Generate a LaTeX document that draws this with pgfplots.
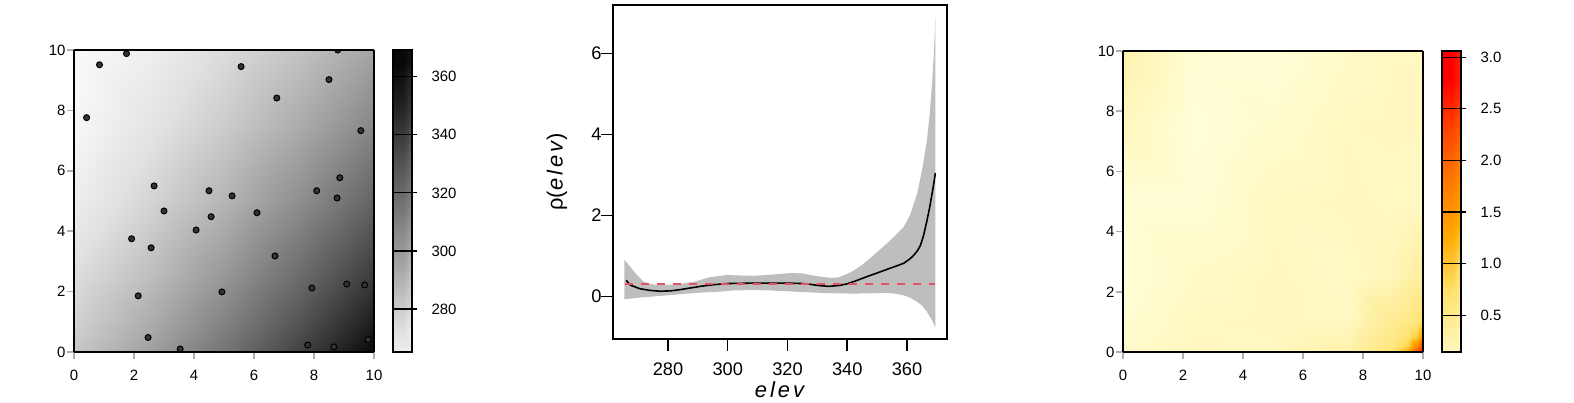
\documentclass[border=0pt]{standalone}
\usepackage{fontspec}
\setmainfont{Liberation Sans}
\usepackage{pgfplots}
\usepackage{pgfplotstable}
\pgfplotsset{compat=1.18}

\definecolor{bandgray}{RGB}{190,190,190}
\definecolor{refred}{RGB}{223,83,107}
\definecolor{tickgray}{RGB}{175,175,175}

\pgfplotsset{
  colormap={elevgray}{gray(0pt)=(0.98) gray(15pt)=(0.88) gray(35pt)=(0.69)
    gray(55pt)=(0.5) gray(75pt)=(0.32) gray(95pt)=(0.13) gray(104pt)=(0.03)},
  colormap={rhoheat}{rgb255(0pt)=(255,255,218) rgb255(35.5pt)=(255,240,165)
    rgb255(85.5pt)=(255,224,105) rgb255(135.5pt)=(255,170,0)
    rgb255(185.5pt)=(255,125,0) rgb255(235.5pt)=(255,75,0) rgb255(291.5pt)=(255,0,0)},
  mapax/.style={
    anchor=south west, scale only axis, view={0}{90},
    xmin=0, xmax=10, ymin=0, ymax=10,
    xtick={0,2,...,10}, ytick={0,2,...,10}, ztick=\empty,
    tick pos=left, tick align=outside, major tick length=7bp,
    tick style={tickgray, line width=1.5bp},
    axis line style={line width=1.8bp},
    tick label style={font=\fontsize{15}{18}\selectfont},
    xticklabel style={yshift=-8bp},
    yticklabel style={xshift=2bp},
    /pgf/number format/assume math mode=true,
    clip marker paths=true,
  },
  barax/.style={
    anchor=south west, scale only axis, width=19bp,
    xmin=0, xmax=1, xtick=\empty,
    ytick pos=right, yticklabel pos=right,
    tick align=outside, major tick length=5bp,
    tick style={black, line width=1.2bp},
    ymajorgrids, major grid style={black, line width=1.2bp},
    axis on top, axis line style={line width=1.8bp},
    yticklabel style={font=\fontsize{15}{18}\selectfont, xshift=11bp},
    /pgf/number format/assume math mode=true,
  },
}

% elevation surface, x varies fastest (7 columns)
\pgfplotstableread{
x y z
0 0 290.6
2.5 0 306.5
5 0 325.1
7.5 0 346.4
9 0 360.5
9.5 0 365.4
10 0 369.2
0 0.5 288.5
2.5 0.5 303.9
5 0.5 321.9
7.5 0.5 342.7
9 0.5 356.4
9.5 0.5 361.2
10 0.5 366.1
0 1 286.5
2.5 1 301.3
5 1 318.8
7.5 1 339.0
9 1 352.5
9.5 1 357.2
10 1 361.9
0 2.5 281.2
2.5 2.5 294.4
5 2.5 310.2
7.5 2.5 328.8
9 2.5 341.3
9.5 2.5 345.6
10 2.5 350.1
0 5 272.3
2.5 5 285.0
5 5 298.1
7.5 5 313.9
9 5 324.8
9.5 5 328.6
10 5 332.5
0 7.5 266.7
2.5 7.5 277.5
5 7.5 288.7
7.5 7.5 301.8
9 7.5 311.0
9.5 7.5 314.3
10 7.5 317.7
0 10 265.2
2.5 10 271.9
5 10 282.0
7.5 10 292.4
9 10 300.0
9.5 10 302.7
10 10 305.5
}\elevgrid

% rho(elev) on a grid refined near the (10,0) corner (8 columns)
\pgfplotstableread{
x y z
0 0 0.26
2.5 0 0.33
5 0 0.31
7.5 0 0.48
9 0 0.91
9.5 0 1.50
9.8 0 2.54
10 0 3.05
0 0.2 0.25
2.5 0.2 0.33
5 0.2 0.32
7.5 0.2 0.45
9 0.2 0.81
9.5 0.2 1.16
9.8 0.2 1.88
10 0.2 2.68
0 0.5 0.23
2.5 0.5 0.32
5 0.5 0.32
7.5 0.5 0.39
9 0.5 0.75
9.5 0.5 0.95
9.8 0.5 1.20
10 0.5 1.70
0 1 0.20
2.5 1 0.32
5 1 0.33
7.5 1 0.31
9 1 0.65
9.5 1 0.77
9.8 1 0.88
10 1 1.00
0 2.5 0.16
2.5 2.5 0.28
5 2.5 0.33
7.5 2.5 0.29
9 2.5 0.36
9.5 2.5 0.47
9.8 2.5 0.54
10 2.5 0.58
0 5 0.18
2.5 5 0.18
5 5 0.31
7.5 5 0.33
9 5 0.31
9.5 5 0.29
9.8 5 0.28
10 5 0.27
0 7.5 0.33
2.5 7.5 0.14
5 7.5 0.23
7.5 7.5 0.32
9 7.5 0.33
9.5 7.5 0.33
9.8 7.5 0.33
10 7.5 0.33
0 10 0.45
2.5 10 0.18
5 10 0.16
7.5 10 0.27
9 10 0.32
9.5 10 0.32
9.8 10 0.32
10 10 0.33
}\rhogrid

% colour-scale samples for the two legend bars
\pgfplotstableread{
x y z
0 265.2 265.2
1 265.2 265.2
0 280 280
1 280 280
0 300 300
1 300 300
0 320 320
1 320 320
0 340 340
1 340 340
0 360 360
1 360 360
0 369.2 369.2
1 369.2 369.2
}\elevbar
\pgfplotstableread{
x y z
0 0.145 0.145
1 0.145 0.145
0 0.5 0.5
1 0.5 0.5
0 1.0 1.0
1 1.0 1.0
0 1.5 1.5
1 1.5 1.5
0 2.0 2.0
1 2.0 2.0
0 2.5 2.5
1 2.5 2.5
0 3.06 3.06
1 3.06 3.06
}\rhobar

\begin{document}
\begin{tikzpicture}
\path[use as bounding box, fill=white] (0,0) rectangle (1574bp,403bp);

% left: elevation map with locations
\begin{axis}[mapax, at={(74bp,51bp)}, width=300bp, height=302bp,
    colormap name=elevgray, point meta min=265.2, point meta max=369.2]
\addplot3[surf, shader=interp, mesh/cols=7] table[x=x, y=y, z=z] {\elevgrid};
\addplot3[only marks, mark=*, mark size=3bp,
    mark options={fill=black!80, draw=black, line width=1bp}] coordinates {
(0.42,7.76,400) (0.85,9.51,400) (1.75,9.88,400) (5.57,9.45,400)
(8.79,10.0,400) (8.50,9.02,400) (6.76,8.41,400) (9.56,7.33,400)
(8.86,5.77,400) (8.09,5.34,400) (8.77,5.10,400) (2.67,5.50,400)
(4.50,5.34,400) (5.27,5.17,400) (3.00,4.67,400) (4.57,4.48,400)
(6.10,4.61,400) (4.07,4.04,400) (1.92,3.75,400) (2.57,3.45,400)
(6.70,3.18,400) (2.14,1.86,400) (4.93,1.99,400) (7.93,2.12,400)
(9.09,2.25,400) (9.69,2.22,400) (2.47,0.48,400) (3.54,0.10,400)
(7.79,0.23,400) (8.66,0.17,400) (9.80,0.41,400)
};
\end{axis}
\begin{axis}[barax, at={(393bp,51bp)}, height=302bp,
    ymin=265.2, ymax=369.2, ytick={280,300,...,360},
    colormap name=elevgray, point meta min=265.2, point meta max=369.2]
\addplot[matrix plot*, shader=interp, mesh/cols=2, point meta=explicit]
  table[x=x, y=y, meta=z] {\elevbar};
\end{axis}

% middle: rho(elev) with band
\begin{axis}[at={(613bp,64bp)}, anchor=south west, scale only axis,
    width=334bp, height=334bp,
    xmin=261.6, xmax=373.4, ymin=-1.05, ymax=7.2,
    xtick={280,300,...,360}, ytick={0,2,4,6},
    tick pos=left, tick align=outside, major tick length=12bp,
    tick style={black, line width=1.5bp},
    axis line style={line width=1.8bp},
    tick label style={font=\fontsize{18.3}{22}\selectfont},
    xticklabel style={yshift=-8bp},
    yticklabel style={xshift=4bp},
    /pgf/number format/assume math mode=true,
    xlabel={\textit{e\kern3bp l\kern3bp e\kern3bp v}},
    ylabel={ρ(\textit{e\kern3bp l\kern3bp e\kern3bp v})},
    label style={font=\fontsize{22}{26}\selectfont},
    xlabel style={at={(axis description cs:0.5,-0.153)}, anchor=center},
    ylabel style={at={(axis description cs:-0.168,0.5)}, anchor=center},
]
\addplot[fill=bandgray, draw=none] coordinates {
(265.4,0.91) (267.4,0.73) (269.6,0.53) (271.8,0.37) (274,0.31) (277.4,0.28)
(283,0.30) (288.6,0.36) (294.1,0.48) (299.7,0.53) (304,0.52) (308.7,0.51)
(315,0.54) (321,0.58) (325,0.57) (327.7,0.53) (331,0.49) (334.4,0.46)
(337,0.47) (339.4,0.54) (342,0.63) (345.5,0.81) (349,1.03) (353.3,1.31)
(356,1.50) (358.9,1.72) (361,2.0) (363.4,2.54) (365,3.1) (366.7,3.86)
(367.6,4.5) (368.4,5.26) (369,6.0) (369.5,6.90)
(369.5,-0.77) (368.5,-0.60) (366.7,-0.38) (365,-0.22) (363.4,-0.13)
(361,-0.03) (358.9,0.03) (356,0.07) (353.3,0.09) (348,0.08) (342.2,0.07)
(336,0.08) (331,0.09) (325,0.11) (319.8,0.13) (314,0.15) (308.7,0.16)
(302,0.15) (297.5,0.12) (292,0.10) (286,0.07) (280,0.03) (275,0.0)
(270,-0.03) (265.4,-0.07)
} -- cycle;
\addplot[black, line width=1.6bp] coordinates {
(266.0,0.40) (267.4,0.28) (270.7,0.19) (274,0.15) (277.4,0.13) (281,0.14)
(284.1,0.17) (287.5,0.21) (290.8,0.25) (295,0.29) (299.8,0.32) (308.7,0.33)
(319.8,0.33) (325,0.32) (327.7,0.30) (330.5,0.27) (333.8,0.25) (337,0.27)
(339.9,0.31) (343,0.39) (346.6,0.49) (350,0.58) (353.3,0.67) (356,0.74)
(358.9,0.82) (361,0.93) (362.3,1.02) (363.5,1.13) (364.5,1.26) (365.6,1.52)
(366.7,1.88) (367.6,2.20) (368.4,2.54) (369,2.80) (369.5,3.05)
};
\addplot[refred, line width=2bp, dash pattern=on 8bp off 8bp] coordinates {
(265.5,0.31) (369.5,0.31)
};
\end{axis}

% right: rho(elev) map
\begin{axis}[mapax, at={(1123bp,51bp)}, width=300bp, height=301bp,
    colormap name=rhoheat, point meta min=0.145, point meta max=3.06]
\addplot3[surf, shader=interp, mesh/cols=8] table[x=x, y=y, z=z] {\rhogrid};
\end{axis}
\begin{axis}[barax, at={(1442bp,51bp)}, height=301bp,
    ymin=0.145, ymax=3.06, ytick={0.5,1,...,3},
    yticklabel style={/pgf/number format/.cd, fixed, fixed zerofill, precision=1},
    colormap name=rhoheat, point meta min=0.145, point meta max=3.06]
\addplot[matrix plot*, shader=interp, mesh/cols=2, point meta=explicit]
  table[x=x, y=y, meta=z] {\rhobar};
\end{axis}
\end{tikzpicture}
\end{document}
